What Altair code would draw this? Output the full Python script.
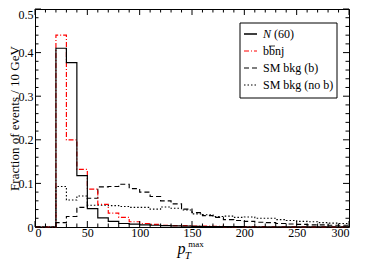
import altair as alt
import pandas as pd

# ---------------- data ----------------
edges = [0, 10, 20, 30, 40, 50, 60, 70, 80, 90, 100, 110, 120, 130, 140, 150,
         160, 170, 180, 190, 200, 210, 220, 230, 240, 250, 260, 270, 280, 290, 300]

n60 = [0, 0, 0.41, 0.377, 0.118, 0.042, 0.021, 0.013, 0.008, 0.0065, 0.005, 0.004,
       0.003, 0.0025, 0.002, 0.0015, 0.0012, 0.001, 0.001, 0.0008, 0.0006, 0.0005,
       0.0005, 0.0004, 0.0003, 0.0003, 0.0002, 0.0002, 0.0002, 0.0001]
bbnj = [0, 0, 0.44, 0.20, 0.132, 0.087, 0.052, 0.032, 0.022, 0.012, 0.008, 0.006,
        0.004, 0.003, 0.003, 0.002, 0.002, 0.0015, 0.001, 0.001, 0.001, 0.0008,
        0.0006, 0.0005, 0.0004, 0.0003, 0.0003, 0.0002, 0.0002, 0.0002]
sm_b = [0, 0, 0.01, 0.024, 0.045, 0.066, 0.092, 0.093, 0.098, 0.088, 0.080, 0.070,
        0.060, 0.053, 0.041, 0.033, 0.026, 0.022, 0.017, 0.015, 0.013, 0.011,
        0.010, 0.008, 0.007, 0.006, 0.005, 0.005, 0.004, 0.004]
sm_nob = [0, 0, 0.093, 0.062, 0.071, 0.050, 0.050, 0.049, 0.047, 0.045, 0.045, 0.041,
          0.046, 0.043, 0.039, 0.030, 0.028, 0.024, 0.025, 0.022, 0.023, 0.020,
          0.020, 0.017, 0.015, 0.013, 0.012, 0.010, 0.009, 0.008]

series_names = ["SM bkg (no b)", "SM bkg (b)", "bbnj", "N (60)"]
series_values = [sm_nob, sm_b, bbnj, n60]
series_colors = ["#000000", "#000000", "#ff0000", "#000000"]
series_dash = [[1.5, 2], [5, 3], [5, 2, 1, 2], [1, 0]]
series_width = [1.1, 1.2, 1.1, 1.5]

x_major = [0, 50, 100, 150, 200, 250, 300]
x_minor = [10, 20, 30, 40, 60, 70, 80, 90, 110, 120, 130, 140, 160, 170, 180, 190,
           210, 220, 230, 240, 260, 270, 280, 290]
y_major = [0, 0.1, 0.2, 0.3, 0.4, 0.5]
y_minor = [0.02, 0.04, 0.06, 0.08, 0.12, 0.14, 0.16, 0.18, 0.22, 0.24, 0.26, 0.28,
           0.32, 0.34, 0.36, 0.38, 0.42, 0.44, 0.46, 0.48]

rows = []
for name, vals in zip(series_names, series_values):
    vv = vals + [vals[-1]]
    for e, v in zip(edges, vv):
        rows.append({"series": name, "pt": e, "frac": v})
df = pd.DataFrame(rows)

# ---------------- layout ----------------
W, H = 314, 218
FONT = "Liberation Serif"
xs = alt.Scale(domain=[0, 300], nice=False, zero=False)
ys = alt.Scale(domain=[0, 0.5], nice=False)

lines = alt.Chart(df).mark_line(interpolate="step-after").encode(
    x=alt.X("pt:Q", scale=xs,
            axis=alt.Axis(values=x_major, ticks=False, domain=False, grid=False,
                          labelFont=FONT, labelFontSize=12, labelPadding=0,
                          labelColor="black", title=" ", titleFontSize=1)),
    y=alt.Y("frac:Q", scale=ys,
            axis=alt.Axis(values=y_major, ticks=False, domain=False, grid=False,
                          labelFont=FONT, labelFontSize=12, labelPadding=2,
                          labelColor="black",
                          labelExpr="datum.value == 0 ? '0' : format(datum.value, '.1f')",
                          labelBaseline={"condition": {"test": "datum.value >= 0.5", "value": "top"},
                                         "value": "middle"},
                          title="Fraction of events / 10 GeV", titleFont=FONT,
                          titleFontSize=13, titleFontWeight="normal", titleColor="black",
                          titleAngle=270, titleX=-17, titleY=H / 2,
                          titleAlign="center", titleBaseline="alphabetic")),
    color=alt.Color("series:N", scale=alt.Scale(domain=series_names, range=series_colors), legend=None),
    strokeDash=alt.StrokeDash("series:N", scale=alt.Scale(domain=series_names, range=series_dash), legend=None),
    strokeWidth=alt.StrokeWidth("series:N", scale=alt.Scale(domain=series_names, range=series_width), legend=None),
    order=alt.Order("series:N", sort="descending"),
)


def xticks(vals, y0, y1):
    return alt.Chart(pd.DataFrame({"pt": vals})).mark_rule(color="black", strokeWidth=1).encode(
        x=alt.X("pt:Q", scale=xs), y=alt.value(y0), y2=alt.value(y1))


def yticks(vals, x0, x1):
    return alt.Chart(pd.DataFrame({"frac": vals})).mark_rule(color="black", strokeWidth=1).encode(
        y=alt.Y("frac:Q", scale=ys), x=alt.value(x0), x2=alt.value(x1))


ticks = [
    xticks(x_major, H, H - 6), xticks(x_minor, H, H - 3.5),
    xticks(x_major, 0, 6), xticks(x_minor, 0, 3.5),
    yticks(y_major, 0, 6), yticks(y_minor, 0, 3.5),
    yticks(y_major, W, W - 6), yticks(y_minor, W, W - 3.5),
]

one = pd.DataFrame({"a": [0]})


def txt(s, x, y, size=12, style="normal", align="left", baseline="alphabetic"):
    return alt.Chart(one).mark_text(font=FONT, fontSize=size, fontStyle=style, align=align,
                                    baseline=baseline, color="black").encode(
        x=alt.value(x), y=alt.value(y), text=alt.value(s))


def seg(x0, x1, y, color, dash, width):
    return alt.Chart(one).mark_rule(color=color, strokeDash=dash, strokeWidth=width).encode(
        x=alt.value(x0), x2=alt.value(x1), y=alt.value(y))


# legend (manual, to allow italic N and the overline)
BX, BY = 205, 14
box = alt.Chart(one).mark_rect(fill="white", stroke="black", strokeWidth=1).encode(
    x=alt.value(BX), x2=alt.value(BX + 97), y=alt.value(BY), y2=alt.value(BY + 75))
base = [BY + 15, BY + 32, BY + 49, BY + 66]
SX0, SX1, TX = BX + 4, BX + 17, BX + 23
legend = [box,
          seg(SX0, SX1, base[0] - 4, "#000000", [1, 0], 1.5),
          txt("N", TX, base[0], style="italic"), txt("(60)", TX + 11, base[0]),
          seg(SX0, SX1, base[1] - 4, "#ff0000", [5, 2, 1, 2], 1.1),
          txt("bbnj", TX, base[1]),
          seg(TX + 6, TX + 12, base[1] - 9, "#000000", [1, 0], 0.8),
          seg(SX0, SX1, base[2] - 4, "#000000", [5, 3], 1.2),
          txt("SM bkg (b)", TX, base[2]),
          seg(SX0, SX1, base[3] - 4, "#000000", [1.5, 2], 1.1),
          txt("SM bkg (no b)", TX, base[3])]

xtitle = [txt("p", 146.5, 245, size=16, style="italic", align="center"),
          txt("T", 152.8, 249.5, size=11, style="italic", align="center"),
          txt("max", 161, 237.5, size=9, align="center")]

chart = alt.layer(lines, *ticks, *legend, *xtitle).properties(
    width=W, height=H,
    autosize=alt.AutoSizeParams(type="none"),
    padding={"left": 27, "top": 1, "right": 9, "bottom": 32},
).configure_view(stroke="black", strokeWidth=1)

chart.save("out.html", embed_options={"renderer": "svg", "actions": False})
